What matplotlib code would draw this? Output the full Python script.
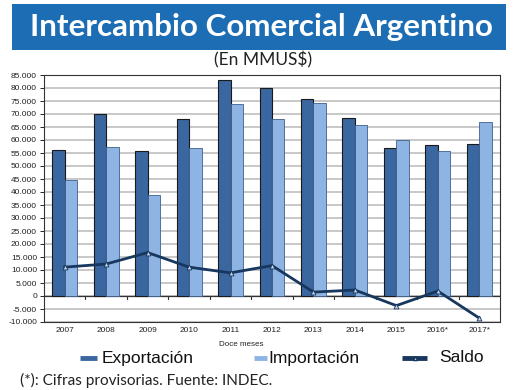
import matplotlib
matplotlib.use("Agg")
import matplotlib.pyplot as plt
from matplotlib.patches import Rectangle
from matplotlib.lines import Line2D
from matplotlib.ticker import FuncFormatter, MultipleLocator
import numpy as np

plt.rcParams["font.family"] = ["Liberation Sans", "DejaVu Sans"]

years = ["2007", "2008", "2009", "2010", "2011", "2012", "2013", "2014", "2015", "2016*", "2017*"]
exportacion = [56000, 70000, 55700, 68200, 83000, 80100, 75900, 68400, 56800, 57900, 58600]
importacion = [44700, 57500, 38800, 56800, 74000, 68100, 74400, 65900, 60100, 55900, 66900]
saldo = [11100, 12300, 16700, 11100, 8900, 11700, 1500, 2300, -3700, 1900, -8500]

C_EXP = "#3b67a0"
C_IMP = "#8db4e2"
C_LINE = "#17375e"
C_BANNER = "#1c6db3"

fig = plt.figure(figsize=(5.2, 3.9), dpi=100)

# Banner
fig.patches.append(Rectangle((12/520, 1-50/390), 494/520, 46/390, transform=fig.transFigure,
                             facecolor=C_BANNER, edgecolor="none", zorder=0))
fig.text(261/520, 1-27/390, "Intercambio Comercial Argentino", color="white", fontsize=22.6,
         fontweight="bold", family="Lato", ha="center", va="center")
fig.text(263/520, 1-60/390, "(En MMUS$)", color="#222222", fontsize=12.5, family="Lato",
         ha="center", va="center")

ax = fig.add_axes([44/520, 1-322/390, 456/520, 247/390])
x = np.arange(len(years))
w = 0.3
ax.bar(x - w/2, exportacion, w, color=C_EXP, edgecolor="#1a1a1a", linewidth=0.8, zorder=3)
ax.bar(x + w/2, importacion, w, color=C_IMP, edgecolor="#3e5f8f", linewidth=0.6, zorder=3)
ax.plot(x, saldo, color=C_LINE, linewidth=2, marker="^", markersize=3.5,
        markerfacecolor="#c8d6ea", markeredgecolor=C_LINE, markeredgewidth=0.6, zorder=4)

ax.set_xlim(-0.5, len(years) - 0.5)
ax.set_ylim(-10000, 85000)
ax.yaxis.set_major_locator(MultipleLocator(5000))
ax.yaxis.set_major_formatter(FuncFormatter(lambda v, p: f"{int(v):,}".replace(",", ".")))
ax.grid(axis="y", color="#bfbfbf", linewidth=1.2, zorder=0)
ax.set_axisbelow(True)
ax.tick_params(axis="y", labelsize=6, length=3, width=0.6, pad=2, labelcolor="#222222")
ax.set_xticks([])
for s in ax.spines.values():
    s.set_color("#333333")
    s.set_linewidth(0.8)

# zero line with boundary ticks
ax.axhline(0, color="#333333", linewidth=0.9, zorder=2)
for b in np.arange(0.5, len(years) - 1, 1.0):
    ax.plot([b, b], [0, -1200], color="#333333", linewidth=0.8, zorder=2, clip_on=False)

for xi, lab in zip(x, years):
    ax.text(xi, -12000, lab, ha="center", va="top", fontsize=6, color="#222222")
fig.text(241/520, 1-344/390, "Doce meses", ha="center", va="center",
         fontsize=5.8, color="#222222")

# Legend
ly = 1-358/390
def leg_line(x0, x1, color, lw):
    fig.add_artist(Line2D([x0/520, x1/520], [ly, ly], transform=fig.transFigure, color=color,
                          linewidth=lw, solid_capstyle="butt"))
leg_line(80, 97, C_EXP, 3.5)
fig.text(102/520, ly, "Exportación", fontsize=12.5, va="center", ha="left", color="#111111")
leg_line(254, 267, C_IMP, 3.5)
fig.text(268/520, ly, "Importación", fontsize=12.5, va="center", ha="left", color="#111111")
leg_line(402, 427, C_LINE, 3.5)
fig.add_artist(Line2D([414.5/520], [ly], transform=fig.transFigure, marker="^", markersize=3,
                      color=C_LINE, markerfacecolor="#c8d6ea", linewidth=0))
fig.text(439/520, ly, "Saldo", fontsize=12.5, va="center", ha="left", color="#111111")

fig.text(20/520, 1-380/390, "(*): Cifras provisorias. Fuente: INDEC.", fontsize=11.1,
         family="Lato", va="center", ha="left", color="#222222")

fig.savefig("out.png", dpi=100)
